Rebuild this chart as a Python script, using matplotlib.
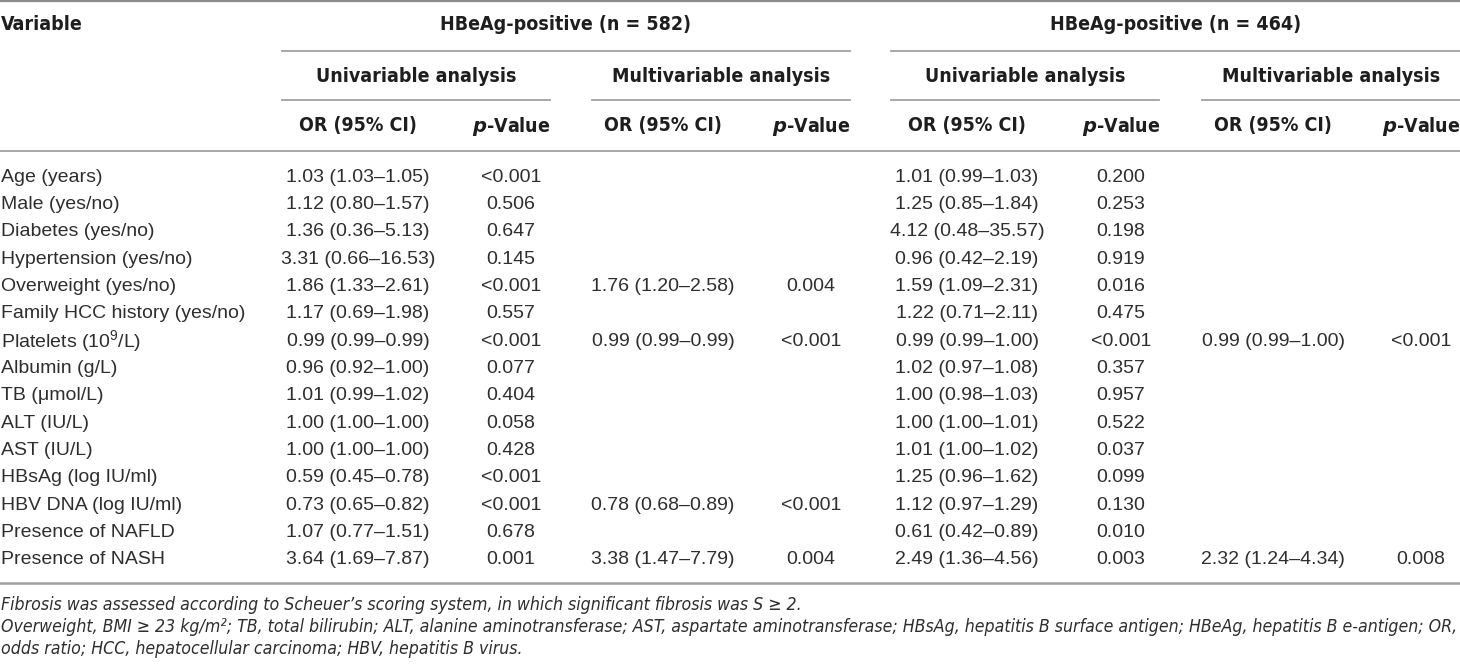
import matplotlib
matplotlib.use("Agg")
import matplotlib.pyplot as plt
from matplotlib import font_manager

# table content
variables = ["Age (years)", "Male (yes/no)", "Diabetes (yes/no)", "Hypertension (yes/no)",
             "Overweight (yes/no)", "Family HCC history (yes/no)", "Platelets (10$^{9}$/L)",
             "Albumin (g/L)", "TB (\u03bcmol/L)", "ALT (IU/L)", "AST (IU/L)",
             "HBsAg (log IU/ml)", "HBV DNA (log IU/ml)", "Presence of NAFLD", "Presence of NASH"]

pos_uni_or = ["1.03 (1.03–1.05)", "1.12 (0.80–1.57)", "1.36 (0.36–5.13)", "3.31 (0.66–16.53)",
              "1.86 (1.33–2.61)", "1.17 (0.69–1.98)", "0.99 (0.99–0.99)", "0.96 (0.92–1.00)",
              "1.01 (0.99–1.02)", "1.00 (1.00–1.00)", "1.00 (1.00–1.00)", "0.59 (0.45–0.78)",
              "0.73 (0.65–0.82)", "1.07 (0.77–1.51)", "3.64 (1.69–7.87)"]
pos_uni_p = ["<0.001", "0.506", "0.647", "0.145", "<0.001", "0.557", "<0.001", "0.077",
             "0.404", "0.058", "0.428", "<0.001", "<0.001", "0.678", "0.001"]
pos_multi_or = ["", "", "", "", "1.76 (1.20–2.58)", "", "0.99 (0.99–0.99)", "", "", "", "",
                "", "0.78 (0.68–0.89)", "", "3.38 (1.47–7.79)"]
pos_multi_p = ["", "", "", "", "0.004", "", "<0.001", "", "", "", "", "", "<0.001", "", "0.004"]

neg_uni_or = ["1.01 (0.99–1.03)", "1.25 (0.85–1.84)", "4.12 (0.48–35.57)", "0.96 (0.42–2.19)",
              "1.59 (1.09–2.31)", "1.22 (0.71–2.11)", "0.99 (0.99–1.00)", "1.02 (0.97–1.08)",
              "1.00 (0.98–1.03)", "1.00 (1.00–1.01)", "1.01 (1.00–1.02)", "1.25 (0.96–1.62)",
              "1.12 (0.97–1.29)", "0.61 (0.42–0.89)", "2.49 (1.36–4.56)"]
neg_uni_p = ["0.200", "0.253", "0.198", "0.919", "0.016", "0.475", "<0.001", "0.357",
             "0.957", "0.522", "0.037", "0.099", "0.130", "0.010", "0.003"]
neg_multi_or = ["", "", "", "", "", "", "0.99 (0.99–1.00)", "", "", "", "", "", "", "",
                "2.32 (1.24–4.34)"]
neg_multi_p = ["", "", "", "", "", "", "<0.001", "", "", "", "", "", "", "", "0.008"]

group_titles = ["HBeAg-positive (n = 582)", "HBeAg-positive (n = 464)"]
sub_titles = ["Univariable analysis", "Multivariable analysis"]

footnotes = [
    "Fibrosis was assessed according to Scheuer\u2019s scoring system, in which significant fibrosis was S \u2265 2.",
    "Overweight, BMI \u2265 23 kg/m\u00b2; TB, total bilirubin; ALT, alanine aminotransferase; AST, aspartate "
    "aminotransferase; HBsAg, hepatitis B surface antigen; HBeAg, hepatitis B e-antigen; OR,",
    "odds ratio; HCC, hepatocellular carcinoma; HBV, hepatitis B virus.",
]


def has_font(name):
    try:
        font_manager.findfont(font_manager.FontProperties(family=name), fallback_to_default=False)
        return True
    except ValueError:
        return False


narrow = "Liberation Sans Narrow" if has_font("Liberation Sans Narrow") else None
body_font = "Liberation Sans"
if narrow:
    head_kw = dict(family=narrow, fontweight="bold", fontsize=17.5)
    foot_kw = dict(family=narrow, style="italic", fontsize=15.5)
else:
    head_kw = dict(family="DejaVu Sans", stretch="condensed", fontweight="bold", fontsize=14)
    foot_kw = dict(family="DejaVu Sans", stretch="condensed", style="italic", fontsize=12.7)

plt.rcParams["mathtext.fontset"] = "custom"
plt.rcParams["mathtext.default"] = "regular"
plt.rcParams["mathtext.bfit"] = (narrow or "DejaVu Sans") + ":italic:bold"

text_col = "#2e2e2e"
head_col = "#1e1e1e"
line_col = "#a0a0a0"

fig = plt.figure(figsize=(14.6, 6.67), dpi=100)
ax = fig.add_axes([0, 0, 1, 1])
ax.set_xlim(0, 1460)
ax.set_ylim(667, 0)
ax.axis("off")

# rules
ax.plot([0, 1460], [1, 1], color="#8a8a8a", lw=1.6)
ax.plot([0, 1460], [151, 151], color=line_col, lw=1.3)
ax.plot([0, 1460], [583, 583], color=line_col, lw=1.8)
group_spans = [(282, 850), (891, 1460)]
sub_spans = [(282, 550), (592, 850), (891, 1159), (1202, 1460)]
for x0, x1 in group_spans:
    ax.plot([x0, x1], [51, 51], color=line_col, lw=1.3)
for x0, x1 in sub_spans:
    ax.plot([x0, x1], [100, 100], color=line_col, lw=1.3)

# header text
ax.text(1, 25, "Variable", ha="left", va="center", color=head_col, **head_kw)
for (x0, x1), title in zip(group_spans, group_titles):
    ax.text((x0 + x1) / 2, 25, title, ha="center", va="center", color=head_col, **head_kw)
for i, (x0, x1) in enumerate(sub_spans):
    ax.text((x0 + x1) / 2, 76, sub_titles[i % 2], ha="center", va="center", color=head_col, **head_kw)

or_x = [358, 663, 967, 1273]
p_x = [511, 811, 1121, 1421]
for xo, xp in zip(or_x, p_x):
    ax.text(xo, 126, "OR (95% CI)", ha="center", va="center", color=head_col, **head_kw)
    ax.text(xp, 126, r"$\mathbfit{p}$-Value", ha="center", va="center", color=head_col, **head_kw)

# body
row_y0 = 177
row_step = (560 - 177) / 14
columns = [pos_uni_or, pos_uni_p, pos_multi_or, pos_multi_p,
           neg_uni_or, neg_uni_p, neg_multi_or, neg_multi_p]
col_x = [or_x[0], p_x[0], or_x[1], p_x[1], or_x[2], p_x[2], or_x[3], p_x[3]]
for i, var in enumerate(variables):
    y = row_y0 + i * row_step
    ax.text(1, y, var, ha="left", va="center", family=body_font, fontsize=14, color=text_col)
    for x, col in zip(col_x, columns):
        if col[i]:
            ax.text(x, y, col[i], ha="center", va="center", family=body_font,
                    fontsize=14, color=text_col)

# footnotes
for y, note in zip([605, 627, 649], footnotes):
    ax.text(1, y, note, ha="left", va="center", color=text_col, **foot_kw)

fig.savefig("out.png", dpi=100)
